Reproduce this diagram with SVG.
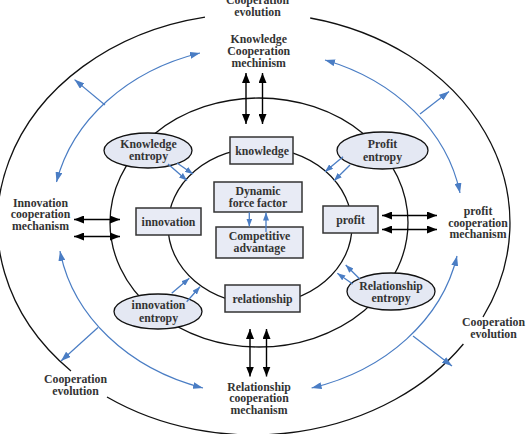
<svg xmlns="http://www.w3.org/2000/svg" width="531" height="434" viewBox="0 0 531 434">
<defs>
<style>
.ring{fill:none;stroke:#111;stroke-width:1.3}
.box{fill:#e8ebf5;stroke:#333;stroke-width:1.5}
.ell{fill:#e4e8f3;stroke:#111;stroke-width:1.3}
.t{font-family:"Liberation Serif","Times New Roman",serif;font-weight:bold;font-size:11.8px;fill:#333;text-anchor:middle}
.blk{fill:none;stroke:#000;stroke-width:1.4;marker-start:url(#ab);marker-end:url(#ab)}
.blu{fill:none;stroke:#4a7dc4;stroke-width:1.2}
.arcs{marker-start:url(#bb);marker-end:url(#bb)}
.br{marker-end:url(#bb)}
.sm{fill:none;stroke:#4a7dc4;stroke-width:1.3;marker-end:url(#bs)}
</style>
<marker id="ab" viewBox="0 0 10 8" refX="10" refY="4" markerWidth="10" markerHeight="8" markerUnits="userSpaceOnUse" orient="auto-start-reverse"><path d="M0,0 L10,4 L0,8 z" fill="#000"/></marker>
<marker id="bb" viewBox="0 0 10 7" refX="10" refY="3.5" markerWidth="10" markerHeight="7" markerUnits="userSpaceOnUse" orient="auto-start-reverse"><path d="M0,0 L10,3.5 L0,7 z" fill="#4a7dc4"/></marker>
<marker id="bs" viewBox="0 0 8 6" refX="8" refY="3" markerWidth="8" markerHeight="6" markerUnits="userSpaceOnUse" orient="auto"><path d="M0,0 L8,3 L0,6 z" fill="#4a7dc4"/></marker>
</defs>
<rect width="531" height="434" fill="#fff"/>

<g id="rings">
<path class="ring" d="M310.2,18 A255 210 0 0 1 483,317"/>
<path class="ring" d="M463.4,344 A255 210 0 0 1 107,397"/>
<path class="ring" d="M71,371 A255 210 0 0 1 205,17.1"/>
<ellipse class="ring" cx="259" cy="222.5" rx="149" ry="124.5"/>
<ellipse class="ring" cx="260" cy="226" rx="92" ry="78"/>
</g>

<g id="texts-free">
<text class="t" x="257.5" y="3.5">Cooperation</text>
<text class="t" x="257.5" y="15.5">evolution</text>
<text class="t" x="258.7" y="43">Knowledge</text>
<text class="t" x="258.7" y="55">Cooperation</text>
<text class="t" x="258.7" y="66.5">mechinism</text>
<text class="t" x="40.5" y="206.5">Innovation</text>
<text class="t" x="40.5" y="218">cooperation</text>
<text class="t" x="40.5" y="230">mechanism</text>
<text class="t" x="478" y="215">profit</text>
<text class="t" x="478" y="226.5">cooperation</text>
<text class="t" x="478" y="238">mechanism</text>
<text class="t" x="493.5" y="326">Cooperation</text>
<text class="t" x="493.5" y="338">evolution</text>
<text class="t" x="75.5" y="383">Cooperation</text>
<text class="t" x="75.5" y="394.6">evolution</text>
<text class="t" x="259" y="390.5">Relationship</text>
<text class="t" x="259" y="402.4">cooperation</text>
<text class="t" x="259" y="414">mechanism</text>
</g>

<g id="knowledge-entropy"><ellipse class="ell" cx="148" cy="150.5" rx="44" ry="17.5"/><text class="t" x="148.5" y="148">Knowledge</text><text class="t" x="148.5" y="160">entropy</text></g>
<g id="profit-entropy"><ellipse class="ell" cx="382.5" cy="150.5" rx="45.5" ry="18.5"/><text class="t" x="382.5" y="148">Profit</text><text class="t" x="382.5" y="160.5">entropy</text></g>
<g id="innovation-entropy"><ellipse class="ell" cx="158" cy="311.5" rx="44" ry="17.5"/><text class="t" x="158.5" y="309">innovation</text><text class="t" x="158.5" y="321.5">entropy</text></g>
<g id="relationship-entropy"><ellipse class="ell" cx="391" cy="291.5" rx="44" ry="18.5"/><text class="t" x="391" y="289.5">Relationship</text><text class="t" x="391" y="301.5">entropy</text></g>

<g id="knowledge"><rect class="box" x="230" y="137" width="63" height="27"/><text class="t" x="262" y="154.5">knowledge</text></g>
<g id="innovation"><rect class="box" x="136" y="208" width="65" height="27"/><text class="t" x="168.5" y="226">innovation</text></g>
<g id="profit"><rect class="box" x="323" y="206" width="55" height="27"/><text class="t" x="350.5" y="224">profit</text></g>
<g id="relationship"><rect class="box" x="225" y="285" width="75" height="27"/><text class="t" x="262.5" y="302.5">relationship</text></g>
<g id="dynamic-force-factor"><rect class="box" x="214" y="182" width="88" height="30"/><text class="t" x="258" y="195">Dynamic</text><text class="t" x="258" y="206.5">force factor</text></g>
<g id="competitive-advantage"><rect class="box" x="216" y="227" width="87" height="31"/><text class="t" x="259.5" y="240">Competitive</text><text class="t" x="259.5" y="252">advantage</text></g>

<g id="connectors">
<line class="blk" x1="246" y1="73" x2="246" y2="124"/>
<line class="blk" x1="262.5" y1="73" x2="262.5" y2="124"/>
<line class="blk" x1="250" y1="329" x2="250" y2="376.5"/>
<line class="blk" x1="266.5" y1="329" x2="266.5" y2="376.5"/>
<line class="blk" x1="74" y1="219.5" x2="120" y2="219.5"/>
<line class="blk" x1="74" y1="236.5" x2="120" y2="236.5"/>
<line class="blk" x1="382" y1="215.5" x2="437" y2="215.5"/>
<line class="blk" x1="382" y1="229.5" x2="437" y2="229.5"/>

<path class="blu arcs" d="M56.5,182 A206 172 0 0 1 200,53"/>
<path class="blu arcs" d="M325,60 A206 172 0 0 1 460,193"/>
<path class="blu arcs" d="M60,251 A206 172 0 0 0 203,388"/>
<path class="blu arcs" d="M457,256 A206 172 0 0 1 311.6,388"/>
<line class="blu br" x1="105" y1="105" x2="74.5" y2="79.6"/>
<line class="blu br" x1="420" y1="114" x2="449" y2="91.5"/>
<line class="blu br" x1="98" y1="327.5" x2="61" y2="361"/>
<line class="blu br" x1="413" y1="336" x2="452" y2="366"/>

<line class="sm" x1="168" y1="164" x2="187" y2="180.5"/>
<line class="sm" x1="177" y1="163" x2="193" y2="174"/>
<line class="sm" x1="343" y1="156.7" x2="325" y2="171.7"/>
<line class="sm" x1="350" y1="165" x2="334" y2="180.7"/>
<line class="sm" x1="171.7" y1="293.3" x2="189.3" y2="278.3"/>
<line class="sm" x1="186.7" y1="301.7" x2="200" y2="286.7"/>
<line class="sm" x1="360" y1="279.3" x2="345.7" y2="265"/>
<line class="sm" x1="352.7" y1="284" x2="337.3" y2="273.3"/>
<line class="sm" x1="249.3" y1="212.3" x2="249.3" y2="226.5"/>
<line class="sm" x1="266" y1="232" x2="266" y2="212.5"/>
</g>
</svg>
